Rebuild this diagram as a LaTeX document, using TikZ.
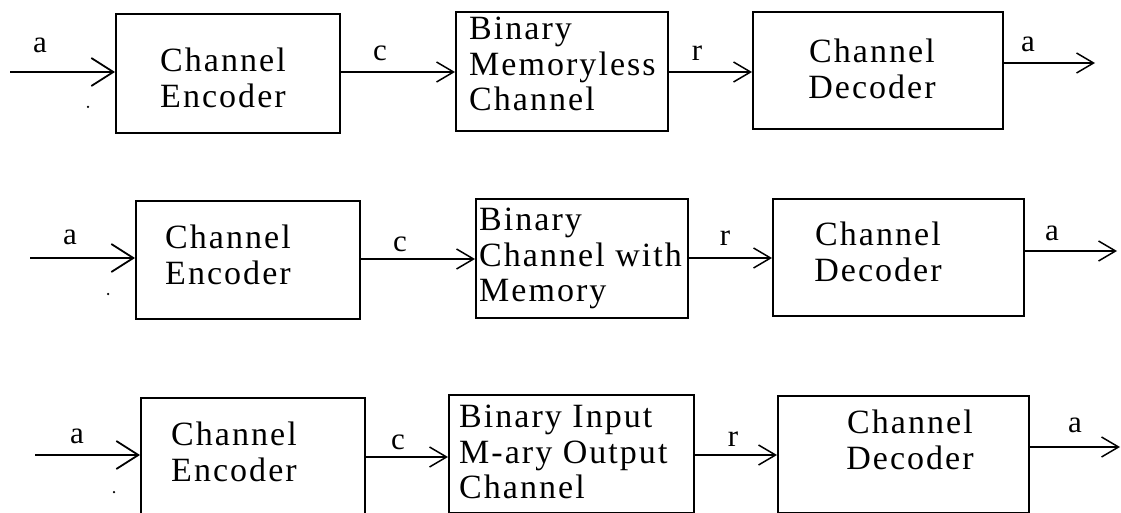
\documentclass[tikz,border=0pt]{standalone}
\usepackage{fontspec}
\setmainfont{Liberation Serif}[LetterSpace=6]
\usetikzlibrary{arrows.meta}
\begin{document}
\begin{tikzpicture}[x=1pt, y=-1pt,
  box/.style={draw, line width=2pt, inner sep=0pt, anchor=north west},
  body/.style={font=\fontsize{34}{35.5}\selectfont, inner sep=0pt, align=center, anchor=north},
  bodyl/.style={body, align=left, anchor=north west},
  lbl/.style={font=\fontsize{31}{32}\selectfont, inner sep=0pt, anchor=base},
  arr/.style={line width=1.5pt, -{Straight Barb[length=17pt,width=20pt,line width=1.5pt]}},
  inarr/.style={line width=1.5pt, -{Straight Barb[length=22pt,width=28pt,line width=1.8pt]}},
  pdot/.style={fill, circle, inner sep=0pt, minimum size=2.5pt}]
\useasboundingbox (0,0) rectangle (1121,513);
\clip (0,0) rectangle (1121,513);

% ---------- first chain: memoryless channel ----------
\node[box, minimum width=224, minimum height=119] (e1) at (115,13) {};
\node[box, minimum width=212, minimum height=119] (m1) at (455,11) {};
\node[box, minimum width=250, minimum height=117] (d1) at (752,11) {};
\node[body]  (e1t) at (223,47.8) {Channel\\Encoder};
\node[bodyl] (m1t) at (469,16.8) {Binary\\Memoryless\\Channel};
\node[body]  (d1t) at (872,38.8) {Channel\\Decoder};

\coordinate (in1) at (10,72);
\coordinate (c1) at (0,72);
\coordinate (r1) at (0,72);
\coordinate (out1) at (1095,63);
\draw[inarr] (in1) -- (in1 -| e1.west);
\draw[arr] (e1.east |- c1) -- (m1.west |- c1);
\draw[arr] (m1.east |- r1) -- (d1.west |- r1);
\draw[arr] (out1 -| d1.east) -- (out1);
\node[lbl] (a1i) at (40,53) {a};
\node[lbl] (c1l) at (380,61) {c};
\node[lbl] (r1l) at (697,61) {r};
\node[lbl] (a1o) at (1028,52) {a};
\node[pdot] (p1) at (88,107) {};

% ---------- second chain: channel with memory ----------
\node[box, minimum width=224, minimum height=118] (e2) at (135,200) {};
\node[box, minimum width=212, minimum height=119] (m2) at (475,198) {};
\node[box, minimum width=251, minimum height=117] (d2) at (772,198) {};
\node[body]  (e2t) at (228,224.8) {Channel\\Encoder};
\node[bodyl] (m2t) at (479,207.8) {Binary\\Channel with\\Memory};
\node[body]  (d2t) at (878,221.8) {Channel\\Decoder};

\coordinate (in2) at (30,258);
\coordinate (c2) at (0,259);
\coordinate (r2) at (0,258);
\coordinate (out2) at (1117,251);
\draw[inarr] (in2) -- (in2 -| e2.west);
\draw[arr] (e2.east |- c2) -- (m2.west |- c2);
\draw[arr] (m2.east |- r2) -- (d2.west |- r2);
\draw[arr] (out2 -| d2.east) -- (out2);
\node[lbl] (a2i) at (70,244) {a};
\node[lbl] (c2l) at (400,251) {c};
\node[lbl] (r2l) at (725,245) {r};
\node[lbl] (a2o) at (1052,240) {a};
\node[pdot] (p2) at (108,294) {};

% ---------- third chain: binary input, M-ary output ----------
\node[box, minimum width=224, minimum height=130] (e3) at (140,397) {};
\node[box, minimum width=245, minimum height=118] (m3) at (448,394) {};
\node[box, minimum width=251, minimum height=117] (d3) at (777,395) {};
\node[body]  (e3t) at (234,421.8) {Channel\\Encoder};
\node[bodyl] (m3t) at (459,404.8) {Binary Input\\M-ary Output\\Channel};
\node[body]  (d3t) at (910,409.8) {Channel\\Decoder};

\coordinate (in3) at (35,455);
\coordinate (c3) at (0,457);
\coordinate (r3) at (0,455);
\coordinate (out3) at (1120,447);
\draw[inarr] (in3) -- (in3 -| e3.west);
\draw[arr] (e3.east |- c3) -- (m3.west |- c3);
\draw[arr] (m3.east |- r3) -- (d3.west |- r3);
\draw[arr] (out3 -| d3.east) -- (out3);
\node[lbl] (a3i) at (77,443) {a};
\node[lbl] (c3l) at (398,449) {c};
\node[lbl] (r3l) at (733,446) {r};
\node[lbl] (a3o) at (1075,432) {a};
\node[pdot] (p3) at (114,492) {};
\end{tikzpicture}
\end{document}
